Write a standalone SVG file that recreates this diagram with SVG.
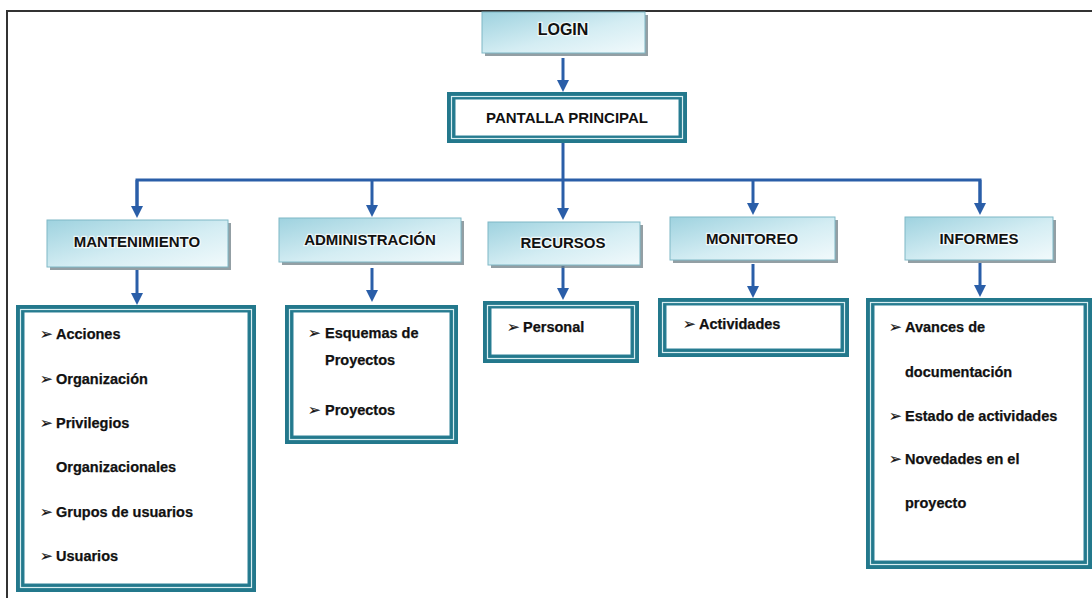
<svg xmlns="http://www.w3.org/2000/svg" width="1092" height="598" viewBox="0 0 1092 598">
<defs>
<linearGradient id="hg" x1="0" y1="0" x2="1" y2="1">
<stop offset="0" stop-color="#9ed2df"/>
<stop offset="0.55" stop-color="#d4edf3"/>
<stop offset="1" stop-color="#f2fafc"/>
</linearGradient>
<marker id="ah" markerWidth="4" markerHeight="4" refX="2" refY="2" orient="auto" markerUnits="strokeWidth">
<path d="M0,0 L4,2 L0,4 z" fill="#2a5ea8"/>
</marker>
<style>
.hdr{fill:url(#hg);stroke:#7fb8c6;stroke-width:1}
.shd{fill:#6f7f86;opacity:0.75}
.ht{font-family:"Liberation Sans",Arial,sans-serif;font-weight:bold;font-size:15px;fill:#111;text-anchor:middle;stroke:#fff;stroke-width:2.5px;paint-order:stroke;stroke-opacity:0.7}
.lo{fill:#23788c}
.lw{fill:none;stroke:#d8eef2;stroke-width:1.2}
.li{fill:#fff;stroke:#2c8096;stroke-width:1}
.it{font-family:"Liberation Sans",Arial,sans-serif;font-weight:bold;font-size:14.5px;fill:#111;stroke:#111;stroke-width:0.25px}
.bu{font-family:"DejaVu Sans",sans-serif;font-size:15px;font-weight:normal}
.cn{fill:none;stroke:#2a5ea8;stroke-width:3}
</style>
</defs>
<rect width="1092" height="598" fill="#fff"/>
<g id="frame">
<path d="M7,598 L7,11 L1092,11" fill="none" stroke="#333" stroke-width="2"/>
</g>
<g id="connectors">
<path class="cn" d="M563,58 L563,86" marker-end="url(#ah)"/>
<path class="cn" d="M563,143 L563,174"/>
<path class="cn" d="M137,210 L137,180 L980,180 L980,208"/>
<path class="cn" d="M563,174 L563,214" marker-end="url(#ah)"/>
<path class="cn" d="M137,180 L137,212" marker-end="url(#ah)"/>
<path class="cn" d="M372,180 L372,211" marker-end="url(#ah)"/>
<path class="cn" d="M753,180 L753,209" marker-end="url(#ah)"/>
<path class="cn" d="M980,180 L980,209" marker-end="url(#ah)"/>
<path class="cn" d="M137,270 L137,299" marker-end="url(#ah)"/>
<path class="cn" d="M372,268 L372,296" marker-end="url(#ah)"/>
<path class="cn" d="M563,266 L563,294" marker-end="url(#ah)"/>
<path class="cn" d="M753,264 L753,292" marker-end="url(#ah)"/>
<path class="cn" d="M980,263 L980,291" marker-end="url(#ah)"/>
</g>
<g id="login">
<rect class="shd" x="485" y="15" width="163" height="41"/>
<rect class="hdr" x="482" y="12" width="163" height="41"/>
<text class="ht" x="563" y="35" style="font-size:16px">LOGIN</text>
</g>
<g id="pantalla">
<rect class="lo" x="447" y="92" width="240" height="51"/>
<rect class="lw" x="451.5" y="96.5" width="231" height="42"/>
<rect class="li" x="455" y="99" width="224" height="37"/>
<text class="ht" x="567" y="123">PANTALLA PRINCIPAL</text>
</g>
<g id="mantenimiento">
<rect class="shd" x="50" y="223" width="181" height="47"/>
<rect class="hdr" x="47" y="220" width="181" height="47"/>
<text class="ht" x="137" y="247">MANTENIMIENTO</text>
</g>
<g id="administracion">
<rect class="shd" x="282" y="221" width="182" height="44"/>
<rect class="hdr" x="279" y="218" width="182" height="44"/>
<text class="ht" x="370" y="245">ADMINISTRACIÓN</text>
</g>
<g id="recursos">
<rect class="shd" x="491" y="225" width="152" height="43"/>
<rect class="hdr" x="488" y="222" width="152" height="43"/>
<text class="ht" x="563" y="248">RECURSOS</text>
</g>
<g id="monitoreo">
<rect class="shd" x="673" y="220" width="165" height="43"/>
<rect class="hdr" x="670" y="217" width="165" height="43"/>
<text class="ht" x="752" y="244">MONITOREO</text>
</g>
<g id="informes">
<rect class="shd" x="908" y="220" width="148" height="43"/>
<rect class="hdr" x="905" y="217" width="148" height="43"/>
<text class="ht" x="979" y="244">INFORMES</text>
</g>
<g id="lista-mantenimiento">
<rect class="lo" x="16" y="305" width="240" height="287"/>
<rect class="lw" x="20.5" y="309.5" width="231" height="278"/>
<rect class="li" x="24" y="312" width="224" height="272"/>
<text class="it" x="40" y="339"><tspan class="bu">➢</tspan><tspan x="56">Acciones</tspan></text>
<text class="it" x="40" y="384"><tspan class="bu">➢</tspan><tspan x="56">Organización</tspan></text>
<text class="it" x="40" y="428"><tspan class="bu">➢</tspan><tspan x="56">Privilegios</tspan></text>
<text class="it" x="56" y="472">Organizacionales</text>
<text class="it" x="40" y="517"><tspan class="bu">➢</tspan><tspan x="56">Grupos de usuarios</tspan></text>
<text class="it" x="40" y="561"><tspan class="bu">➢</tspan><tspan x="56">Usuarios</tspan></text>
</g>
<g id="lista-administracion">
<rect class="lo" x="285" y="305" width="173" height="139"/>
<rect class="lw" x="289.5" y="309.5" width="164" height="130"/>
<rect class="li" x="293" y="312" width="157" height="124"/>
<text class="it" x="308" y="338"><tspan class="bu">➢</tspan><tspan x="325">Esquemas de</tspan></text>
<text class="it" x="325" y="365">Proyectos</text>
<text class="it" x="308" y="415"><tspan class="bu">➢</tspan><tspan x="325">Proyectos</tspan></text>
</g>
<g id="lista-recursos">
<rect class="lo" x="483" y="301" width="156" height="62"/>
<rect class="lw" x="487.5" y="305.5" width="147" height="53"/>
<rect class="li" x="491" y="308" width="140" height="47"/>
<text class="it" x="507" y="332"><tspan class="bu">➢</tspan><tspan x="523">Personal</tspan></text>
</g>
<g id="lista-monitoreo">
<rect class="lo" x="658" y="298" width="191" height="59"/>
<rect class="lw" x="662.5" y="302.5" width="182" height="50"/>
<rect class="li" x="666" y="305" width="175" height="44"/>
<text class="it" x="683" y="329"><tspan class="bu">➢</tspan><tspan x="699">Actividades</tspan></text>
</g>
<g id="lista-informes">
<rect class="lo" x="866" y="298" width="226" height="271"/>
<rect class="lw" x="870.5" y="302.5" width="217" height="262"/>
<rect class="li" x="874" y="305" width="210" height="256"/>
<text class="it" x="889" y="332"><tspan class="bu">➢</tspan><tspan x="905">Avances de</tspan></text>
<text class="it" x="905" y="377">documentación</text>
<text class="it" x="889" y="421"><tspan class="bu">➢</tspan><tspan x="905">Estado de actividades</tspan></text>
<text class="it" x="889" y="464"><tspan class="bu">➢</tspan><tspan x="905">Novedades en el</tspan></text>
<text class="it" x="905" y="508">proyecto</text>
</g>
</svg>
